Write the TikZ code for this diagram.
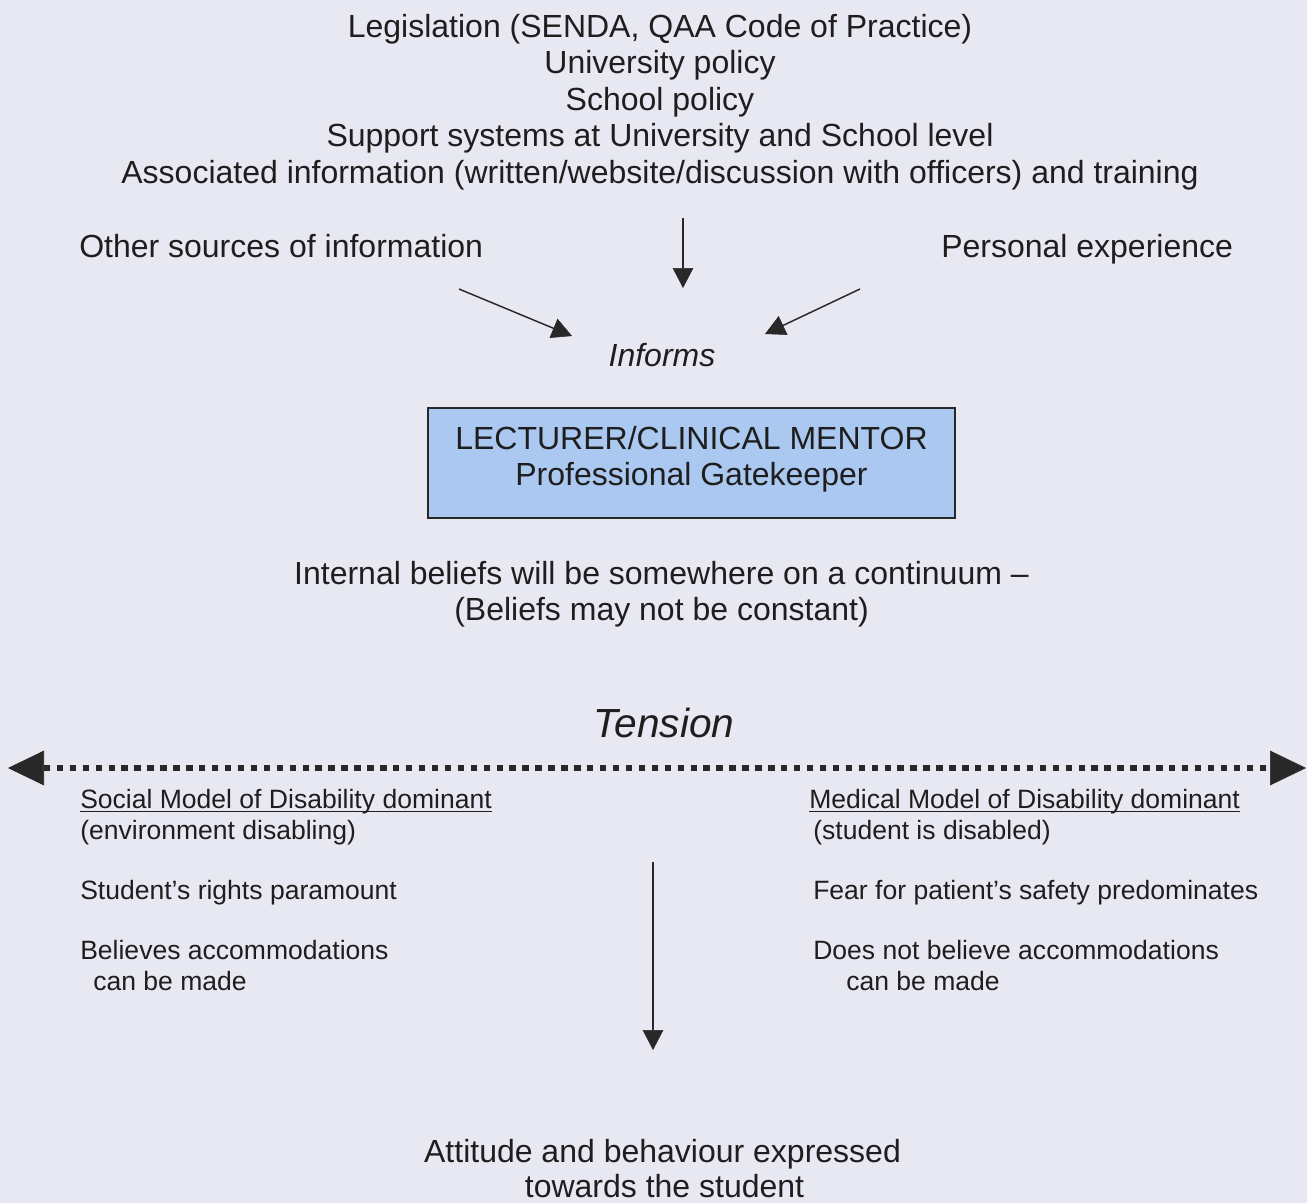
\documentclass[tikz,border=0pt]{standalone}
\usepackage{fontspec}
\setmainfont{Liberation Sans}
\usetikzlibrary{arrows.meta}
\definecolor{bg}{RGB}{231,232,242}
\definecolor{boxfill}{RGB}{170,200,240}
\definecolor{ink}{RGB}{30,30,30}
\definecolor{linecol}{RGB}{40,40,40}
\begin{document}
\begin{tikzpicture}[x=0.75pt,y=-0.75pt,
  txt/.style={inner sep=0pt, anchor=base, text=ink, font=\fontsize{24}{28}\selectfont},
  small/.style={inner sep=0pt, anchor=base west, text=ink, font=\fontsize{19.9}{23}\selectfont},
  pointer/.style={draw=linecol, line width=1.1pt,
    -{Triangle[length=15pt,width=15.5pt,line width=0.4pt]}},
  spectrum/.style={draw=linecol, line width=4.8pt, dash pattern=on 4.8pt off 4.9pt,
    {Triangle[length=27pt,width=26pt,line width=0.4pt]}-{Triangle[length=27pt,width=26pt,line width=0.4pt]}},
  rolebox/.style={draw=linecol, fill=boxfill, line width=1.1pt, minimum width=395.25pt,
    minimum height=82.5pt, inner sep=0pt}
]
\fill[bg] (0,0) rectangle (1307,1203);
\useasboundingbox (0,0) rectangle (1307,1203);

% Sources of guidance
\node[txt] (leg) at (660,37) {Legislation (SENDA, QAA Code of Practice)};
\node[txt] (uni) at (660,73.5) {University policy};
\node[txt] (sch) at (660,110) {School policy};
\node[txt] (sup) at (660,146.5) {Support systems at University and School level};
\node[txt] (ass) at (660,183) {Associated information (written/website/discussion with officers) and training};
\node[txt,anchor=base west] (oth) at (79,257) {Other sources of information};
\node[txt,anchor=base west] (per) at (941,257) {Personal experience};
\node[txt,font=\fontsize{24}{28}\selectfont\itshape] (inf) at (662,366) {Informs};

% Converging arrows
\coordinate (midtop) at (683,218);
\coordinate (midtip) at (683,288);
\coordinate (lefttop) at (459,289);
\coordinate (lefttip) at (572,336);
\coordinate (righttop) at (860,289);
\coordinate (righttip) at (765,334);
\draw[pointer] (midtop) -- (midtip);
\draw[pointer] (lefttop) -- (lefttip);
\draw[pointer] (righttop) -- (righttip);

% Gatekeeper box
\node[rolebox] (gk) at (691.5,463) {};
\node[txt] (gk1) at (691.5,449) {LECTURER/CLINICAL MENTOR};
\node[txt] (gk2) at (691.5,485) {Professional Gatekeeper};

\node[txt] (int1) at (661.5,584) {Internal beliefs will be somewhere on a continuum –};
\node[txt] (int2) at (661.5,620) {(Beliefs may not be constant)};

\node[txt,font=\fontsize{30.5}{35}\selectfont\itshape] (ten) at (664,737) {Tension};

% Continuum
\coordinate (cl) at (8,768);
\coordinate (cr) at (1306,768);
\draw[spectrum] (cl) -- (cr);

% Social model side
\node[small] (soc) at (80,808) {Social Model of Disability dominant};
\draw[ink,line width=1pt] ([yshift=-2.4pt]soc.base west) -- ([yshift=-2.4pt]soc.base east);
\node[small] (env) at (80,839) {(environment disabling)};
\node[small] (rig) at (80,899) {Student’s rights paramount};
\node[small] (bel) at (80,959) {Believes accommodations};
\node[small] (bcm) at (93,990) {can be made};

% Medical model side
\node[small] (med) at (809,808) {Medical Model of Disability dominant};
\draw[ink,line width=1pt] ([yshift=-2.4pt]med.base west) -- ([yshift=-2.4pt]med.base east);
\node[small] (stu) at (813,839) {(student is disabled)};
\node[small] (fea) at (813,899) {Fear for patient’s safety predominates};
\node[small] (dnb) at (813,959) {Does not believe accommodations};
\node[small] (ncm) at (846,990) {can be made};

% Outcome
\coordinate (downtop) at (653,862);
\coordinate (downtip) at (653,1050);
\draw[pointer] (downtop) -- (downtip);
\node[txt] (att) at (662.5,1162) {Attitude and behaviour expressed};
\node[txt] (tow) at (664.5,1197) {towards the student};
\end{tikzpicture}
\end{document}
